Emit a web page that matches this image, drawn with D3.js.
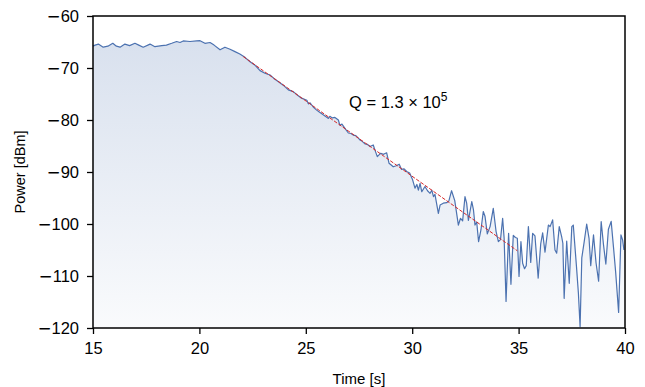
<!DOCTYPE html>
<html>
<head>
<meta charset="utf-8">
<script src="https://cdn.jsdelivr.net/npm/d3@7"></script>
<style>
  html, body { margin: 0; padding: 0; background: #fff; }
  svg text { font-family: "Liberation Sans", Arial, sans-serif; fill: #000; }
</style>
</head>
<body>
<div id="chart"></div>
<script>
// measured ring-down trace (time in s, power in dBm)
const times = [
  15.00, 15.10, 15.25, 15.48, 15.70, 15.93, 16.10, 16.27, 16.50, 16.72,
  16.97, 17.15, 17.36, 17.68, 17.91, 18.23, 18.45, 18.70, 18.93, 19.09,
  19.24, 19.56, 19.87, 20.03, 20.26, 20.50, 20.69, 20.97, 21.20, 21.44,
  21.67, 21.90, 22.14, 22.38, 22.60, 22.85, 23.08, 23.32, 23.50, 23.70,
  23.94, 24.18, 24.41, 24.60, 24.80, 25.05, 25.12, 25.20, 25.35, 25.51,
  25.65, 25.82, 26.00, 26.06, 26.13, 26.25, 26.37, 26.53, 26.60, 26.70,
  26.84, 27.00, 27.12, 27.23, 27.35, 27.47, 27.55, 27.65, 27.78, 27.90,
  28.02, 28.12, 28.17, 28.25, 28.36, 28.44, 28.52, 28.65, 28.80, 28.91,
  29.00, 29.11, 29.25, 29.39, 29.50, 29.62, 29.74, 29.88, 30.02, 30.13,
  30.22, 30.29, 30.37, 30.45, 30.60, 30.72, 30.84, 30.92, 31.00, 31.07,
  31.23, 31.31, 31.46, 31.62, 31.72, 31.85, 32.00, 32.17, 32.27, 32.37,
  32.48, 32.56, 32.64, 32.72, 32.80, 32.88, 32.95, 33.03, 33.12, 33.23,
  33.34, 33.42, 33.53, 33.66, 33.81, 33.94, 34.05, 34.15, 34.25, 34.32,
  34.41, 34.53, 34.64, 34.75, 34.85, 34.94, 35.02, 35.11, 35.19, 35.28,
  35.36, 35.46, 35.57, 35.66, 35.77, 35.92, 36.04, 36.13, 36.24, 36.40,
  36.48, 36.60, 36.71, 36.79, 36.91, 37.02, 37.08, 37.14, 37.26, 37.38,
  37.50, 37.57, 37.72, 37.81, 37.89, 37.97, 38.08, 38.20, 38.31, 38.39,
  38.52, 38.64, 38.76, 38.88, 38.99, 39.10, 39.22, 39.35, 39.46, 39.56,
  39.70, 39.81, 39.89, 39.95
];
const power = [
  -65.8, -65.6, -65.4, -66.0, -65.8, -65.25, -65.8, -66.0, -65.4, -65.7,
  -65.25, -65.6, -66.0, -65.4, -65.9, -65.7, -65.6, -65.25, -64.9, -65.1,
  -64.8, -64.9, -64.8, -64.75, -65.25, -65.1, -65.6, -66.5, -66.0, -66.4,
  -66.85, -67.3, -67.95, -68.8, -69.4, -70.5, -71.0, -71.35, -72.0, -72.6,
  -73.3, -74.2, -74.55, -75.2, -75.8, -76.2, -76.9, -76.7, -77.5, -78.1,
  -78.5, -79.0, -79.5, -79.7, -79.3, -79.6, -79.5, -80.0, -81.0, -80.8,
  -81.6, -82.5, -82.6, -82.9, -83.0, -83.5, -83.85, -84.1, -84.6, -84.7,
  -85.1, -84.9, -84.8, -85.8, -87.05, -86.7, -86.4, -86.6, -86.3, -88.3,
  -88.6, -89.0, -88.8, -88.5, -89.5, -89.4, -89.9, -90.2, -91.5, -93.1,
  -92.4, -93.5, -92.2, -93.8, -92.8, -93.6, -94.1, -93.5, -94.75, -94.3,
  -97.95, -96.35, -96.0, -95.9, -95.6, -93.6, -95.5, -100.2, -98.9, -99.4,
  -94.75, -96.0, -99.3, -97.5, -95.7, -97.3, -100.2, -99.6, -103.4, -101.15,
  -97.6, -98.5, -101.9, -100.5, -97.0, -101.4, -103.4, -103.0, -98.9, -102.75,
  -114.9, -101.8, -111.6, -102.2, -102.6, -102.75, -110.1, -103.4, -107.55, -108.6,
  -108.0, -100.5, -107.4, -101.8, -102.3, -110.4, -103.8, -101.7, -105.4, -100.2,
  -100.5, -99.2, -105.0, -105.6, -100.5, -102.4, -103.7, -114.3, -103.3, -111.4,
  -100.5, -100.2, -108.2, -113.3, -119.75, -106.5, -103.5, -100.0, -102.75, -108.0,
  -102.1, -107.5, -111.0, -99.55, -104.0, -107.7, -101.0, -99.5, -104.5, -109.2,
  -117.0, -102.1, -103.1, -105.0
];

// exponential-decay fit shown as a straight dashed line in dB
const fitTimes = [22.06, 34.94];
const fitPower = [-67.8, -105.15];

const xTicks = [15, 20, 25, 30, 35, 40];
const yTicks = [-60, -70, -80, -90, -100, -110, -120];

const width = 645, height = 387;
const margin = { top: 16, right: 20, bottom: 59, left: 93 };

const svg = d3.select('#chart').append('svg')
  .attr('width', width)
  .attr('height', height);

const x = d3.scaleLinear().domain([15, 40]).range([margin.left, width - margin.right]);
const y = d3.scaleLinear().domain([-120, -60]).range([height - margin.bottom, margin.top]);

const data = times.map((t, i) => ({ t, p: power[i] }));
const fit = fitTimes.map((t, i) => ({ t, p: fitPower[i] }));

// fading fill under the trace
const grad = svg.append('defs').append('linearGradient')
  .attr('id', 'fade')
  .attr('gradientUnits', 'userSpaceOnUse')
  .attr('x1', 0).attr('x2', 0)
  .attr('y1', y(-60)).attr('y2', y(-120));
grad.append('stop').attr('offset', '0%').attr('stop-color', '#4c72b0').attr('stop-opacity', 0.23);
grad.append('stop').attr('offset', '100%').attr('stop-color', '#4c72b0').attr('stop-opacity', 0.03);

const plot = svg.append('g');

plot.append('path')
  .datum(data)
  .attr('fill', 'url(#fade)')
  .attr('d', d3.area().x(d => x(d.t)).y0(y(-120)).y1(d => y(d.p)));

plot.append('path')
  .datum(data)
  .attr('fill', 'none')
  .attr('stroke', '#4c72b0')
  .attr('stroke-width', 1.2)
  .attr('stroke-linejoin', 'round')
  .attr('d', d3.line().x(d => x(d.t)).y(d => y(d.p)));

plot.append('path')
  .datum(fit)
  .attr('fill', 'none')
  .attr('stroke', '#d62728')
  .attr('stroke-width', 1)
  .attr('stroke-dasharray', '3.7,1.6')
  .attr('d', d3.line().x(d => x(d.t)).y(d => y(d.p)));

// axes
const xAxis = svg.append('g')
  .attr('transform', `translate(0,${height - margin.bottom})`)
  .call(d3.axisBottom(x).tickValues(xTicks).tickSize(6).tickPadding(8));
const yAxis = svg.append('g')
  .attr('transform', `translate(${margin.left},0)`)
  .call(d3.axisLeft(y).tickValues(yTicks).tickSize(6).tickPadding(8));

[xAxis, yAxis].forEach(a => {
  a.selectAll('text')
    .attr('font-size', 16.5)
    .attr('font-family', '"Liberation Sans", Arial, sans-serif')
    .attr('fill', '#000')
    .each(function(d) {
      const t = d3.select(this).text('');
      if (d < 0) t.append('tspan').attr('font-family', '"DejaVu Sans", sans-serif').text('\u2212');
      t.append('tspan').text(Math.abs(d));
    });
  a.selectAll('line').attr('stroke', '#000').attr('stroke-width', 1.3);
  a.select('.domain').remove();
});

// frame
svg.append('rect')
  .attr('x', margin.left).attr('y', margin.top)
  .attr('width', width - margin.left - margin.right)
  .attr('height', height - margin.top - margin.bottom)
  .attr('fill', 'none')
  .attr('stroke', '#000')
  .attr('stroke-width', 1.5);

svg.append('text')
  .attr('x', (margin.left + width - margin.right) / 2)
  .attr('y', 384)
  .attr('text-anchor', 'middle')
  .attr('font-size', 15)
  .text('Time [s]');

svg.append('text')
  .attr('transform', `translate(25,${(margin.top + height - margin.bottom) / 2}) rotate(-90)`)
  .attr('text-anchor', 'middle')
  .attr('font-size', 14.5)
  .text('Power [dBm]');

const q = svg.append('text')
  .attr('x', 349)
  .attr('y', 108)
  .attr('font-size', 16.5)
  .text('Q = 1.3 \u00d7 10');
q.append('tspan')
  .attr('dy', -7)
  .attr('font-size', 12)
  .text('5');
</script>
</body>
</html>
